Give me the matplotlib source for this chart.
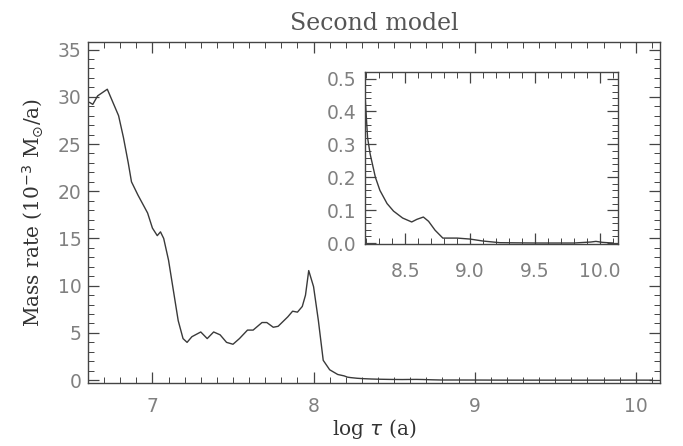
import matplotlib
matplotlib.use("Agg")
import matplotlib.pyplot as plt
from matplotlib.ticker import MultipleLocator

# values
log_tau = [6.61, 6.63, 6.66, 6.72, 6.755, 6.79, 6.82, 6.85, 6.87, 6.91, 6.97, 7.00,
           7.03, 7.05, 7.07, 7.10, 7.13, 7.16, 7.19, 7.215, 7.245, 7.30, 7.34, 7.38,
           7.42, 7.46, 7.50, 7.54, 7.59, 7.625, 7.68, 7.71, 7.75, 7.78, 7.84, 7.87,
           7.90, 7.93, 7.95, 7.97, 8.00, 8.03, 8.06, 8.10, 8.15, 8.19, 8.21, 8.23,
           8.27, 8.305, 8.36, 8.41, 8.48, 8.55, 8.59, 8.64, 8.68, 8.73, 8.79, 8.90,
           9.00, 9.10, 9.23, 9.50, 9.80, 9.93, 9.97, 10.02, 10.10]
mass_rate = [29.4, 29.2, 30.1, 30.8, 29.4, 28.0, 25.7, 23.0, 21.0, 19.6, 17.7, 16.1,
             15.3, 15.7, 15.0, 12.7, 9.5, 6.3, 4.4, 4.0, 4.6, 5.1, 4.4, 5.1,
             4.8, 4.0, 3.8, 4.4, 5.3, 5.3, 6.1, 6.1, 5.6, 5.7, 6.7, 7.3,
             7.2, 7.8, 9.0, 11.6, 9.9, 6.3, 2.1, 1.1, 0.6, 0.45, 0.32, 0.27,
             0.20, 0.16, 0.12, 0.097, 0.076, 0.064, 0.072, 0.079, 0.066, 0.039, 0.015, 0.015,
             0.012, 0.006, 0.001, 0.0, 0.0, 0.003, 0.005, 0.002, 0.0]

main_xticks = [7, 8, 9, 10]
main_yticks = [0, 5, 10, 15, 20, 25, 30, 35]
inset_xticks = [8.5, 9.0, 9.5, 10.0]
inset_yticks = [0.0, 0.1, 0.2, 0.3, 0.4, 0.5]

line_col = "#3a3a3a"
tick_col = "#808080"
axis_col = "#444444"


def style_axes(ax, xmin, ymin, pad_x, pad_y):
    ax.xaxis.set_minor_locator(MultipleLocator(xmin))
    ax.yaxis.set_minor_locator(MultipleLocator(ymin))
    ax.tick_params(which="both", direction="in", top=True, right=True,
                   color=axis_col, labelcolor=tick_col, labelsize=13.5)
    ax.tick_params(which="major", length=8, width=0.9)
    ax.tick_params(which="minor", length=4, width=0.7)
    ax.tick_params(axis="x", which="major", pad=pad_x)
    ax.tick_params(axis="y", which="major", pad=pad_y)
    for s in ax.spines.values():
        s.set_color(axis_col)
        s.set_linewidth(1.0)


fig = plt.figure(figsize=(6.83, 4.46), dpi=100)
ax = fig.add_axes([0.1288, 0.1413, 0.8375, 0.7645])
ax.plot(log_tau, mass_rate, color=line_col, lw=1.0)
ax.set_xlim(6.6, 10.15)
ax.set_ylim(-0.3, 35.8)
ax.set_xticks(main_xticks)
ax.set_yticks(main_yticks)
style_axes(ax, 0.1, 1, 10, 4.5)
ax.set_title("Second model", family="DejaVu Serif", fontsize=17, color="#555555", pad=9)
ax.set_xlabel(r"log $\tau$ (a)", family="DejaVu Serif", fontsize=14.5, color="#333333", labelpad=1)
ax.set_ylabel(r"Mass rate (10$^{-3}$ M$_{\odot}$/a)", family="DejaVu Serif", fontsize=14.5,
              color="#333333", labelpad=9)

ins = fig.add_axes([0.5344, 0.4529, 0.3704, 0.3857])
ins.plot(log_tau, mass_rate, color=line_col, lw=1.0)
ins.set_xlim(8.19, 10.14)
ins.set_ylim(-0.003, 0.52)
ins.set_xticks(inset_xticks)
ins.set_yticks(inset_yticks)
ins.set_xticklabels([f"{v:.1f}" for v in inset_xticks])
ins.set_yticklabels([f"{v:.1f}" for v in inset_yticks])
style_axes(ins, 0.1, 0.02, 13, 6)

fig.savefig("out.png", dpi=100)
